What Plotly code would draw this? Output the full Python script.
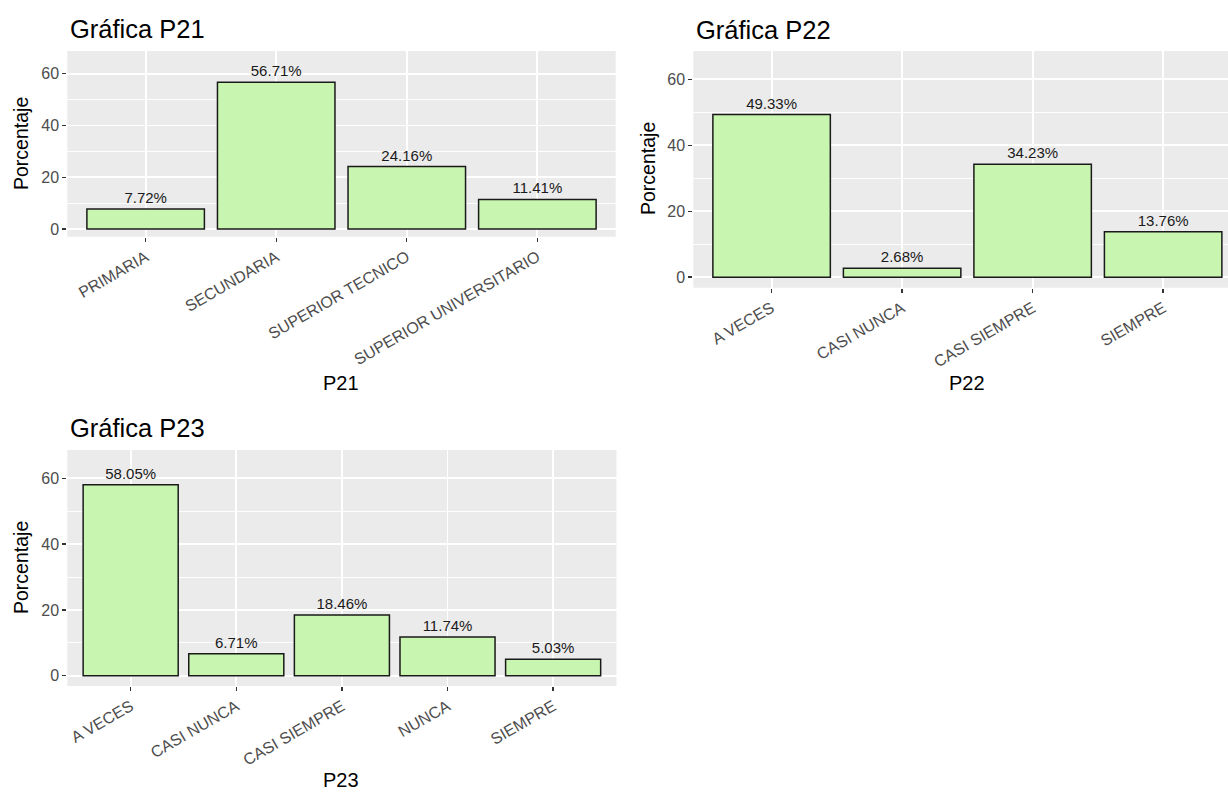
import plotly.graph_objects as go

# ---- data ----
p21_cats = ["PRIMARIA", "SECUNDARIA", "SUPERIOR TECNICO", "SUPERIOR UNIVERSITARIO"]
p21_vals = [7.72, 56.71, 24.16, 11.41]
p22_cats = ["A VECES", "CASI NUNCA", "CASI SIEMPRE", "SIEMPRE"]
p22_vals = [49.33, 2.68, 34.23, 13.76]
p23_cats = ["A VECES", "CASI NUNCA", "CASI SIEMPRE", "NUNCA", "SIEMPRE"]
p23_vals = [58.05, 6.71, 18.46, 11.74, 5.03]
titles = ["Gráfica P21", "Gráfica P22", "Gráfica P23"]
xtitles = ["P21", "P22", "P23"]
ytitle = "Porcentaje"
y_ticks = [0, 20, 40, 60]

W, H = 1228, 792
FONT = "Liberation Sans"
FILL = "#C8F5AF"
BG = "#EBEBEB"


def px(x):
    return x / W


def py(y):
    return 1 - y / H


fig = go.Figure()

panels = [
    dict(cats=p21_cats, vals=p21_vals, xd=[67.3, 615.7], yd=[51, 236.7],
         xr=[-0.6, 3.6], yr=[-2.97, 68.8], title_xy=(68, 29), xt_xy=(341, 383), yt_xy=(21, 144)),
    dict(cats=p22_cats, vals=p22_vals, xd=[693.3, 1228], yd=[51, 287.7],
         xr=[-0.6, 3.497], yr=[-3.2, 68.6], title_xy=(694, 30), xt_xy=(967, 383), yt_xy=(648, 169)),
    dict(cats=p23_cats, vals=p23_vals, xd=[67.3, 616.5], yd=[450, 686],
         xr=[-0.6, 4.6], yr=[-3.13, 68.6], title_xy=(68, 428), xt_xy=(341, 780), yt_xy=(21, 568)),
]

annotations = []
for i, p in enumerate(panels):
    sfx = "" if i == 0 else str(i + 1)
    fig.add_trace(go.Bar(
        x=p["cats"], y=p["vals"], width=0.9,
        marker=dict(color=FILL, line=dict(color="#1a1a1a", width=1.5)),
        text=[f"{v:.2f}%" for v in p["vals"]], textposition="outside",
        textfont=dict(family=FONT, size=15, color="#1a1a1a"),
        cliponaxis=False, constraintext="none", hoverinfo="skip",
        xaxis="x" + sfx, yaxis="y" + sfx, showlegend=False,
    ))
    xa = dict(
        domain=[px(p["xd"][0]), px(p["xd"][1])], range=p["xr"], anchor="y" + sfx,
        type="category", categoryorder="array", categoryarray=p["cats"],
        showgrid=True, gridcolor="white", gridwidth=1.8, zeroline=False,
        ticks="outside", ticklen=4, tickwidth=1.4, tickcolor="#333333",
        tickangle=-30, tickfont=dict(family=FONT, size=16, color="#4D4D4D"),
        showline=False, fixedrange=True,
    )
    ya = dict(
        domain=[py(p["yd"][1]), py(p["yd"][0])], range=p["yr"], anchor="x" + sfx,
        tickvals=y_ticks, showgrid=True, gridcolor="white", gridwidth=1.8,
        minor=dict(dtick=10, tick0=0, showgrid=True, gridcolor="white", gridwidth=0.9, ticks=""),
        zeroline=False, ticks="outside", ticklen=4, tickwidth=1.4, tickcolor="#333333",
        tickfont=dict(family=FONT, size=16, color="#4D4D4D"), showline=False, fixedrange=True,
    )
    fig.update_layout(**{"xaxis" + sfx: xa, "yaxis" + sfx: ya})

    tx, ty = p["title_xy"]
    annotations.append(dict(text=titles[i], x=px(tx), y=py(ty), xref="paper", yref="paper",
                            xanchor="left", yanchor="middle", showarrow=False,
                            font=dict(family=FONT, size=25.5, color="black")))
    ax, ay = p["xt_xy"]
    annotations.append(dict(text=xtitles[i], x=px(ax), y=py(ay), xref="paper", yref="paper",
                            xanchor="center", yanchor="middle", showarrow=False,
                            font=dict(family=FONT, size=20, color="black")))
    yx, yy = p["yt_xy"]
    annotations.append(dict(text=ytitle, x=px(yx), y=py(yy), xref="paper", yref="paper",
                            xanchor="center", yanchor="middle", showarrow=False, textangle=-90,
                            font=dict(family=FONT, size=19.5, color="black")))

fig.update_layout(
    width=W, height=H, margin=dict(l=0, r=0, t=0, b=0),
    paper_bgcolor="white", plot_bgcolor=BG, bargap=0.1,
    annotations=annotations, showlegend=False,
    font=dict(family=FONT), hovermode=False,
)

fig.write_html(
    "out.html",
    config={"displayModeBar": False, "staticPlot": True},
    post_script="document.body.style.margin='0';document.body.style.padding='0';document.body.style.overflow='hidden';",
)
